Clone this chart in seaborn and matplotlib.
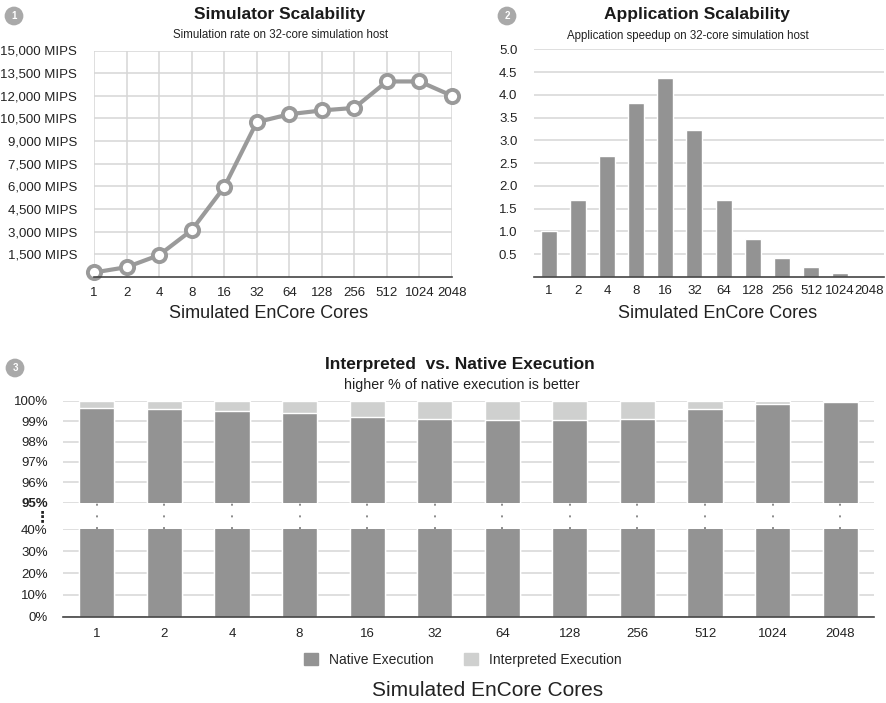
import numpy as np
import pandas as pd
import matplotlib.pyplot as plt
import seaborn as sns
from matplotlib.patches import Patch

sns.set_style('white')
plt.rcParams['font.family'] = ['Liberation Sans', 'DejaVu Sans']

# data
cores = ['1', '2', '4', '8', '16', '32', '64', '128', '256', '512', '1024', '2048']
mips = [300, 650, 1450, 3100, 5950, 10250, 10780, 11030, 11200, 12950, 12950, 12000]
speedup = [1.0, 1.7, 2.66, 3.82, 4.38, 3.23, 1.68, 0.83, 0.41, 0.21, 0.08, 0.0]
native_pct = [99.64, 99.6, 99.5, 99.4, 99.2, 99.1, 99.05, 99.05, 99.1, 99.6, 99.84, 99.94]
total_pct = [100] * len(cores)

mips_ticks = [1500, 3000, 4500, 6000, 7500, 9000, 10500, 12000, 13500, 15000]
speed_ticks = [0.5, 1.0, 1.5, 2.0, 2.5, 3.0, 3.5, 4.0, 4.5, 5.0]
hi_ticks = [95, 96, 97, 98, 99, 100]
lo_ticks = [0, 10, 20, 30, 40]

dark = '#939393'
light = '#cfd0cf'
grid = '#d6d6d6'
axis_col = '#444444'
line_col = '#9a9a9a'

W, H = 887, 703


def rect(l, t, r, b):
    return [l / W, 1 - b / H, (r - l) / W, (b - t) / H]


fig = plt.figure(figsize=(W / 100, H / 100), dpi=100)

# ---- chart 1: simulator scalability
ax1 = fig.add_axes(rect(94, 50.5, 452, 277))
sns.pointplot(x=cores, y=mips, order=cores, color=line_col, markers='o',
              errorbar=None, ax=ax1, linewidth=3,
              markersize=9.5, markerfacecolor='white', markeredgewidth=2.8,
              markeredgecolor=line_col)
ax1.set_xlim(0, len(cores) - 1)
ax1.set_ylim(0, 15000)
ax1.set_yticks(mips_ticks)
ax1.set_yticklabels([f'{v:,} MIPS' for v in mips_ticks], fontsize=9.5, color='#222222')
ax1.set_xticks(range(len(cores)))
ax1.set_xticklabels(cores, fontsize=9.5, color='#222222')
ax1.grid(True, axis='both', color=grid, lw=1.1)
ax1.set_axisbelow(True)
for s in ['top', 'right', 'left']:
    ax1.spines[s].set_visible(False)
ax1.spines['bottom'].set_color(axis_col)
ax1.spines['bottom'].set_linewidth(1.2)
ax1.tick_params(axis='x', direction='inout', length=6, width=1, color=axis_col, pad=4)
ax1.tick_params(axis='y', length=0, pad=12)
ax1.set_xlabel('')
ax1.set_ylabel('')
for ln in ax1.lines:
    ln.set_clip_on(False)
for c in ax1.collections:
    c.set_clip_on(False)

# ---- chart 2: application scalability
ax2 = fig.add_axes(rect(534, 49.3, 884, 277))
sns.barplot(x=cores, y=speedup, order=cores, color=dark, saturation=1,
            width=0.55, errorbar=None, ax=ax2)
ax2.set_xlim(-0.5, len(cores) - 0.5)
ax2.set_ylim(0, 5.0)
ax2.set_yticks(speed_ticks)
ax2.set_yticklabels([f'{v:.1f}' for v in speed_ticks], fontsize=9.5, color='#222222')
ax2.set_xticks(range(len(cores)))
ax2.set_xticklabels(cores, fontsize=9.5, color='#222222')
ax2.set_xticks(np.arange(len(cores) + 1) - 0.5, minor=True)
ax2.grid(True, axis='y', color=grid, lw=1.1)
ax2.set_axisbelow(True)
for s in ['top', 'right', 'left']:
    ax2.spines[s].set_visible(False)
ax2.spines['bottom'].set_color(axis_col)
ax2.spines['bottom'].set_linewidth(1.2)
ax2.tick_params(axis='x', which='major', length=0, pad=6)
ax2.tick_params(axis='x', which='minor', direction='inout', length=6, width=1, color=axis_col)
ax2.tick_params(axis='y', length=0, pad=12)
ax2.set_xlabel('')
ax2.set_ylabel('')

# ---- chart 3: interpreted vs native (broken axis)
ax_hi = fig.add_axes(rect(63, 400.7, 874, 502.7))
ax_gap = fig.add_axes(rect(63, 502.7, 874, 529.3))
ax_lo = fig.add_axes(rect(63, 529.3, 874, 616.7))

for ax in (ax_hi, ax_lo):
    sns.barplot(x=cores, y=total_pct, order=cores, color=light, saturation=1,
                width=0.52, errorbar=None, ax=ax)
    sns.barplot(x=cores, y=native_pct, order=cores, color=dark, saturation=1,
                width=0.52, errorbar=None, ax=ax)
    ax.set_xlim(-0.5, len(cores) - 0.5)
    ax.grid(True, axis='y', color=grid, lw=1.1)
    ax.set_axisbelow(True)
    for s in ['top', 'right', 'left', 'bottom']:
        ax.spines[s].set_visible(False)
    ax.tick_params(axis='y', length=0, pad=11)
    ax.set_xlabel('')
    ax.set_ylabel('')

ax_hi.set_ylim(95, 100)
ax_hi.set_yticks(hi_ticks)
ax_hi.set_yticklabels([f'{v}%' for v in hi_ticks], fontsize=9.5, color='#222222')
ax_hi.get_yticklabels()[0].set_fontweight('bold')
ax_hi.set_xticks([])

ax_lo.set_ylim(0, 40)
ax_lo.set_yticks(lo_ticks)
ax_lo.set_yticklabels([f'{v}%' for v in lo_ticks], fontsize=9.5, color='#222222')
ax_lo.set_xticks(range(len(cores)))
ax_lo.set_xticklabels(cores, fontsize=9.5, color='#222222')
ax_lo.set_xticks(np.arange(len(cores) + 1) - 0.5, minor=True)
ax_lo.spines['bottom'].set_visible(True)
ax_lo.spines['bottom'].set_color(axis_col)
ax_lo.spines['bottom'].set_linewidth(1.2)
ax_lo.tick_params(axis='x', which='major', length=0, pad=8)
ax_lo.tick_params(axis='x', which='minor', direction='inout', length=6, width=1, color=axis_col)

ax_gap.set_xlim(-0.5, len(cores) - 0.5)
ax_gap.set_ylim(0, 1)
ax_gap.vlines(range(len(cores)), 0, 1, colors='#8a8a8a', lw=1.4, linestyles=(0, (1, 5)))
ax_gap.axis('off')

fig.text(42 / W, 1 - 517 / H, '\u22ee', family='DejaVu Sans', fontsize=11,
         weight='bold', ha='center', va='center', color='#222222')

# titles
fig.text(280 / W, 1 - 14 / H, 'Simulator Scalability', fontsize=12.5, weight='bold',
         ha='center', va='center', color='#1a1a1a')
fig.text(281 / W, 1 - 35.5 / H, 'Simulation rate on 32-core simulation host', fontsize=8.3,
         ha='center', va='center', color='#222222')
fig.text(697 / W, 1 - 14 / H, 'Application Scalability', fontsize=12.5, weight='bold',
         ha='center', va='center', color='#1a1a1a')
fig.text(688 / W, 1 - 35.5 / H, 'Application speedup on 32-core simulation host', fontsize=8.3,
         ha='center', va='center', color='#222222')
fig.text(460 / W, 1 - 364 / H, 'Interpreted  vs. Native Execution', fontsize=12.5, weight='bold',
         ha='center', va='center', color='#1a1a1a')
fig.text(462 / W, 1 - 384.5 / H, 'higher % of native execution is better', fontsize=10.3,
         ha='center', va='center', color='#222222')

fig.text(269 / W, 1 - 314 / H, 'Simulated EnCore Cores', fontsize=13, ha='center', va='center',
         color='#222222')
fig.text(718 / W, 1 - 314 / H, 'Simulated EnCore Cores', fontsize=13, ha='center', va='center',
         color='#222222')
fig.text(488 / W, 1 - 690 / H, 'Simulated EnCore Cores', fontsize=15, ha='center', va='center',
         color='#222222')

# numbered badges
for txt, x, y in [('1', 14, 16), ('2', 507, 16), ('3', 15, 368)]:
    fig.text(x / W, 1 - y / H, txt, fontsize=7, weight='bold', color='white',
             ha='center', va='center',
             bbox=dict(boxstyle='circle,pad=0.45', fc='#a9a9a9', ec='none'))

handles = [Patch(color=dark, label='Native Execution'),
           Patch(color=light, label='Interpreted Execution')]
fig.legend(handles=handles, loc='center', bbox_to_anchor=(463 / W, 1 - 660 / H), ncol=2,
           frameon=False, fontsize=10, handlelength=1.0, handleheight=1.0,
           columnspacing=2.2, handletextpad=0.8)

fig.savefig('out.png', dpi=100)
